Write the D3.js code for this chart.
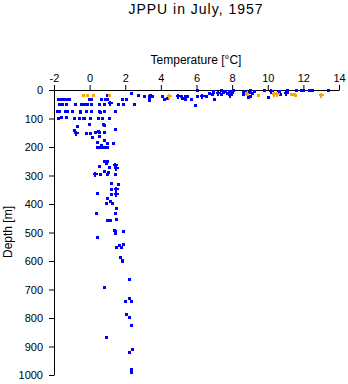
<!DOCTYPE html>
<html>
<head>
<meta charset="utf-8">
<script src="https://cdn.jsdelivr.net/npm/d3@7"></script>
<style>
  html, body { margin: 0; padding: 0; background: #fff; }
  svg { display: block; font-family: "Liberation Sans", Arial, sans-serif; }
</style>
</head>
<body>
<svg id="chart" width="348" height="384"></svg>
<script>
// CTD profile samples: temperature [°C] and depth [m]
const blueTemp = [
  6.0, 6.95, 7.35, 7.6, 8.05, 8.75, 9.0, 9.2, 9.8, 10.65, 11.1, 11.6, 11.85, 12.0, 12.3, 12.5, 13.4, 7.8,
  6.7, 6.95, 7.5, 7.7, 8.6, 8.6, 8.95, 9.1, 9.2, 10.6, 10.7, 2.3, 6.85, 7.4,
  3.05, 3.35, 3.5, 4.05, 5.15, 5.35, 5.45, 6.05, 6.55, 9.0, 8.9, 10.0, 1.0, 2.7, 3.4,
  3.35, 4.2, 4.35, 5.2, 5.35, 5.7, 7.0, -1.75, -1.6, -1.45, -1.3, -1.15, -0.05, 0.1, 0.65, 0.85, 1.0, 1.8, 2.05, 3.35,
  -1.7, -1.55, -1.3, -0.8, -0.5, -0.3, -0.15, 0.05, 0.55, 0.8, 1.6, 1.9, 2.5, 5.9,
  -1.85, -1.7, -1.4, -1.25, -1.0, -0.55, -0.55, -0.2, 0.05, 0.55, 0.6, 0.8, 1.4,
  -1.75, -1.6, -1.3, -0.85, -0.6, -0.4, -0.3, 0.0, 0.45, 0.7, 1.1,
  -0.05, 0.75, 0.8, -0.7,
  -0.85, -0.2, 0.0, 0.3, 0.45, 0.55, 0.8, 1.4, 0.55, 0.15, 0.8,
  0.4, 1.0, 1.3, 0.65, 0.4, 0.55, 0.7, 0.85, 1.0,
  0.8, 0.95, 0.9, 0.55, 1.1, 0.8, 1.05, 0.95, 0.6, 1.4,
  1.2, 1.6, 1.2, 0.4, 1.2,
  0.95, 1.15, 1.25, 0.9, 1.5, 1.45, 0.35, 1.0, 1.15, 1.5,
  1.35, 1.45, 1.4, 1.85, 0.4, 1.65, 1.75, 1.9, 1.5, 1.7, 1.8, 1.8,
  2.2, 0.8, 2.2, 2.0, 2.3, 2.05, 2.2, 2.35, 0.9, 2.4, 2.2, 2.3, 2.35
];
const blueDepth = [
  1, 2, 1, 2, 1, 2, 1, 2, 1, 2, 1, 1, 1, 1, 1, 1, 1, 3,
  10, 8, 8, 12, 8, 15, 8, 12, 5, 8, 14, 12, 14, 15,
  20, 20, 22, 20, 20, 22, 20, 20, 20, 22, 25, 25, 18, 18, 18,
  30, 30, 28, 28, 30, 32, 30, 32, 32, 32, 32, 32, 32, 32, 32, 32, 32, 30, 30, 34,
  50, 50, 50, 50, 50, 50, 50, 50, 50, 50, 50, 50, 50, 51,
  75, 72, 75, 75, 75, 72, 78, 75, 75, 72, 77, 75, 75,
  97, 95, 93, 97, 97, 97, 97, 97, 97, 97, 97,
  118, 118, 122, 125,
  139, 151, 151, 146, 143, 148, 146, 137, 163, 166, 174,
  183, 185, 185, 193, 200, 200, 200, 200, 200,
  250, 248, 255, 268, 270, 283, 288, 293, 296, 296,
  325, 330, 347, 363, 365,
  380, 388, 395, 395, 413, 430, 430, 455, 455, 453,
  490, 495, 500, 495, 517, 545, 550, 540, 550, 585, 595, 600,
  663, 692, 730, 740, 740, 785, 795, 825, 866, 910, 920, 980, 990
];
const blueCrossTemp  = [10.2, 7.2, 7.95, 11.05, 4.95, 6.3, 7.9, 1.15, -0.75, 1.45, 1.5, 0.3, 1.5, 1.5];
const blueCrossDepth = [3, 10, 10, 10, 20, 20, 18, 46, 151, 262, 274, 295, 347, 365];

const orangeTemp  = [-0.35, -0.15, 0.2, 1.1, 8.8, 8.85, 9.45, 11.3, 11.45, 11.55];
const orangeDepth = [18, 18, 18, 18, 12, 15, 17, 15, 15, 17];
const orangeCrossTemp  = [4.45, 10.35, 10.5, 13.0];
const orangeCrossDepth = [20, 15, 15, 17];

const tempTicks  = [-2, 0, 2, 4, 6, 8, 10, 12, 14];
const depthTicks = [0, 100, 200, 300, 400, 500, 600, 700, 800, 900, 1000];

const svg = d3.select("#chart");

const x = d3.scaleLinear().domain([-2, 14]).range([54, 339]);
const y = d3.scaleLinear().domain([0, 1000]).range([90, 375]);

// Title
svg.append("text")
  .attr("x", 196).attr("y", 14)
  .attr("text-anchor", "middle")
  .attr("font-size", 14)
  .attr("letter-spacing", 1)
  .text("JPPU in July, 1957");

// Temperature axis along the top
const xAxis = svg.append("g")
  .attr("transform", "translate(0,90)")
  .call(d3.axisTop(x).tickValues(tempTicks).tickFormat(d3.format("d")).tickSize(5).tickSizeOuter(0).tickPadding(3));
xAxis.selectAll("text").attr("font-size", 11).attr("fill", "#000")
  .text(d => d < 0 ? "-" + Math.abs(d) : d);

svg.append("text")
  .attr("x", 196).attr("y", 64)
  .attr("text-anchor", "middle")
  .attr("font-size", 12)
  .text("Temperature [°C]");

// Depth axis on the left
const yAxis = svg.append("g")
  .attr("transform", "translate(54,0)")
  .call(d3.axisLeft(y).tickValues(depthTicks).tickFormat(d3.format("d")).tickSize(5).tickSizeOuter(0).tickPadding(6));
yAxis.selectAll("text").attr("font-size", 11).attr("fill", "#000");

svg.selectAll(".domain, .tick line").attr("stroke", "#000");

svg.append("text")
  .attr("transform", "translate(12,232) rotate(-90)")
  .attr("text-anchor", "middle")
  .attr("font-size", 12)
  .text("Depth [m]");

// Markers
function squares(temps, depths, color) {
  svg.append("g").selectAll("rect")
    .data(d3.range(temps.length))
    .join("rect")
    .attr("x", i => Math.round(x(temps[i])) - 1)
    .attr("y", i => Math.round(y(depths[i])) - 1)
    .attr("width", 3).attr("height", 3)
    .attr("fill", color)
    .attr("shape-rendering", "crispEdges");
}
function crosses(temps, depths, color) {
  const g = svg.append("g").attr("fill", color).attr("shape-rendering", "crispEdges");
  const idx = d3.range(temps.length);
  g.selectAll("rect.h").data(idx).join("rect").attr("class", "h")
    .attr("x", i => Math.round(x(temps[i])) - 2)
    .attr("y", i => Math.round(y(depths[i])) - 1)
    .attr("width", 5).attr("height", 2);
  g.selectAll("rect.v").data(idx).join("rect").attr("class", "v")
    .attr("x", i => Math.round(x(temps[i])) - 1)
    .attr("y", i => Math.round(y(depths[i])) - 2)
    .attr("width", 2).attr("height", 5);
}

squares(blueTemp, blueDepth, "#0000ff");
crosses(blueCrossTemp, blueCrossDepth, "#0000ff");
squares(orangeTemp, orangeDepth, "#ffa500");
crosses(orangeCrossTemp, orangeCrossDepth, "#ffa500");
</script>
</body>
</html>
